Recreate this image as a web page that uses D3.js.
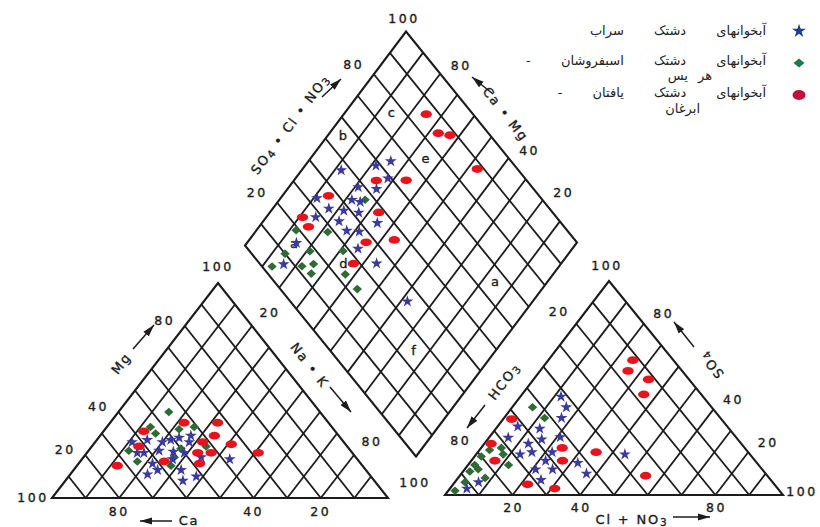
<!DOCTYPE html>
<html><head><meta charset="utf-8">
<script src="https://cdn.jsdelivr.net/npm/d3@7"></script>
<style>body{margin:0;background:#fff}svg{display:block}</style>
</head><body>
<svg id="chart" width="820" height="527"></svg>
<script>
// ---- Cation triangle samples: [Ca, Mg, Na+K] (% meq/l)
const cationSarab = [[63,26,11],[58,27,15],[64,21,15],[62,21,17],[54,26,20],[51,27,22],[48,28,24],[44,29,27],[46,26,28],[57,22,21],[50,21,29],[53,21.5,25.5],[62,16,22],[46,19,35],[38,18,44],[66,11,23],[62,13,25],[55,13,32],[52,10,38],[57,8,35],[55,18,27]];
const cationAsb = [[45,40,15],[54,33,13],[54,30,16],[41,33,26],[46,32,22],[66,22,12],[66,17,17],[54,19,27],[50,23,27],[42,24,34],[57,15,28]];
const cationYaftan = [[43,35,22],[33,35,32],[57,31,12],[37,29,34],[62,24,14],[42,26,32],[34,25,41],[46,21,33],[42,21,37],[28,21,51],[58,17,25],[48,16,36],[73,15,12]];
// ---- Anion triangle samples: [HCO3, SO4, Cl+NO3]
const anionSarab = [[42,46,12],[43,41,16],[47,36,17],[62,32,6],[56,31,13],[67.5,26.8,5.7],[52,27,21],[58,26,16],[63,24,13],[68,19,13],[64,20,16],[58,20,22],[62,16,22],[53,15,32],[37,19,44],[67,12,21],[62,12,26],[53,10,37],[68,7,25],[87,6,7],[92,3,5]];
const anionAsb = [[53,41,6],[52,36,12],[76,21,3],[72,22,6],[80,18,2],[73,19,8],[84,14,2],[74,14,12],[87,11,2],[84,8,8],[84,12,4],[96,2,2],[91,6,3]];
const anionYaftan = [[12,63,25],[16,58,26],[12,54,34],[17,47,36],[62,35.5,2.5],[74,24,2],[54,22,24],[45,20,35],[77,16,7],[57,16,27],[36,9,55],[73,5,22],[66,3,31]];
// ---- Diamond samples: [SO4+Cl+NO3, Ca+Mg]
const diamondSarab = [[58.5,78.5],[64,75],[47,88],[59,72],[53,73],[48,79],[33,89],[43,78],[45,75],[34,83],[38,78],[42,73],[28,85],[34,77],[45,65],[34,72.5],[37.5,68.5],[16,85],[33,65],[7,84],[35,56],[35,38]];
const diamondAsb = [[47,74],[19,88],[28,78],[10,86],[18,79],[28,69],[3,87],[12,78],[16,75],[13,73.5],[23,63],[23,56]];
const diamondYaftan = [[86,75],[85,67],[88,63],[88,47],[64,66],[55,75],[37,86],[48,67],[24,89],[23.5,85],[37,64],[46,56],[28,63]];

// ---- Grid and tick values
const gridSteps = [10,20,30,40,50,60,70,80,90];
const caTicks = [80,40,20];
const mgTicks = [20,40,80];
const nakTicks = [20,80];
const clTicks = [20,40,80];
const hco3Ticks = [80,20];
const so4Ticks = [80,40,20];
const dSulfTicks = [80,20];
const dCaMgTicks = [80,40,20];
const zoneNames = ["a","b","c","d","e","f","a"];
const zonePos = [[15,85.5],[56,95.5],[76,86],[25,66],[75,65],[25,25],[66,16]];

const legendLines = [
  ["آبخوانهای دشتک سراب"],
  ["آبخوانهای دشتک اسبفروشان -", "هر یس"],
  ["آبخوانهای دشتک یافتان -", "ابرغان"]
];

const colStar = "#3b3a9e", colDia = "#2f6b34", colRed = "#e8141d";
const ink = "#1c1c1c";

const svg = d3.select("#chart");
const pct = d3.scaleLinear().domain([0,100]).range([0,1]);

// triangle frame: vertices for components [a, b, c]
function triangle(vA, vB, vC){
  return (a,b,c) => {
    const wa = pct(a), wb = pct(b), wc = pct(c);
    return [wa*vA[0]+wb*vB[0]+wc*vC[0], wa*vA[1]+wb*vB[1]+wc*vC[1]];
  };
}
// cation: Ca at bottom-left, Mg at apex, Na+K at bottom-right
const cat = triangle([52,498],[218,283],[388,498]);
const catP = d => cat(d[0], d[1], d[2]);
// anion: HCO3 bottom-left, SO4 apex, Cl bottom-right
const an = triangle([445,495],[609,281],[783,495]);
const anP = d => an(d[0], d[1], d[2]);
// diamond: origin at bottom vertex
const DB = [416,456.5], DR = [577,242.5], DL = [245,245.5];
const dia = (u, v) => {
  const fu = pct(u), fv = pct(v);
  return [DB[0] + fu*(DR[0]-DB[0]) + fv*(DL[0]-DB[0]), DB[1] + fu*(DR[1]-DB[1]) + fv*(DL[1]-DB[1])];
};

const line = d3.line();
const g = svg.append("g");

function drawSeg(p, q, w){
  g.append("path").attr("d", line([p,q])).attr("stroke", ink).attr("stroke-width", w).attr("fill","none");
}

// ---- triangle grids: only lines parallel to the two slanted sides
function triGrid(P){
  gridSteps.forEach(k => {
    drawSeg(P(100-k,0,k), P(0,100-k,k), 1.8);
    drawSeg(P(k,0,100-k), P(k,100-k,0), 1.8);
  });
  g.append("path").attr("d", line([P(100,0,0),P(0,100,0),P(0,0,100)]) + "Z")
    .attr("stroke", ink).attr("stroke-width", 2.1).attr("fill","none").attr("stroke-linejoin","miter");
}
triGrid(cat);
triGrid(an);
// ---- diamond grid
gridSteps.forEach(k => {
  drawSeg(dia(k,0), dia(k,100), 1.8);
  drawSeg(dia(0,k), dia(100,k), 1.8);
});
g.append("path").attr("d", line([dia(0,0),dia(100,0),dia(100,100),dia(0,100)]) + "Z")
  .attr("stroke", ink).attr("stroke-width", 2.1).attr("fill","none");

// ---- text helpers
const numFont = "'DejaVu Sans', sans-serif";
function label(x, y, txt, opts={}){
  return svg.append("text").attr("x", x).attr("y", y).text(txt)
    .attr("font-family", numFont).attr("font-size", opts.size || 12.5)
    .attr("letter-spacing", opts.ls == null ? 2.5 : opts.ls)
    .attr("fill", ink).attr("stroke", ink).attr("stroke-width", 0.35)
    .attr("text-anchor", "middle").attr("dominant-baseline","central")
    .attr("transform", opts.rot ? `rotate(${opts.rot},${x},${y})` : null);
}
function offLabel(p, dx, dy, v){ label(p[0]+dx, p[1]+dy, String(v)); }

// cation ticks
caTicks.forEach(v => offLabel(cat(v,0,100-v), 0, 13, v));
offLabel(cat(100,0,0), -19, -1, 100);
mgTicks.forEach(v => offLabel(cat(100-v,v,0), -20, -6, v));
offLabel(cat(0,100,0), 0, -17, 100);
nakTicks.forEach(v => offLabel(cat(0,100-v,v), 18, -14, v));
// anion ticks
clTicks.forEach(v => offLabel(an(100-v,0,v), 1, 12, v));
offLabel(an(0,0,100), 19, -4, 100);
hco3Ticks.forEach(v => offLabel(an(v,100-v,0), -17, -12, v));
offLabel(an(100,0,0), -30, -13, 100);
so4Ticks.forEach(v => offLabel(an(0,v,100-v), 20, -10, v));
offLabel(an(0,100,0), -2, -16, 100);
// diamond ticks
dSulfTicks.forEach(v => offLabel(dia(v,100), -20, -10, v));
dCaMgTicks.forEach(v => offLabel(dia(100,v), 21, -8, v));
offLabel(dia(100,100), -2, -13, 100);

// zone letters
zoneNames.forEach((z,i) => {
  const p = dia(zonePos[i][0], zonePos[i][1]);
  label(p[0], p[1], z, {size: 13, ls: 0});
});

// ---- axis titles and arrows
svg.append("defs").append("marker").attr("id","ah").attr("viewBox","0 0 10 6")
  .attr("refX",10).attr("refY",3).attr("markerWidth",8).attr("markerHeight",5).attr("orient","auto")
  .append("path").attr("d","M0,0L10,3L0,6Z").attr("fill",ink);
function arrow(x1,y1,x2,y2){
  svg.append("path").attr("d", line([[x1,y1],[x2,y2]])).attr("stroke", ink)
    .attr("stroke-width",1.5).attr("marker-end","url(#ah)");
}
function title(x, y, parts, rot){
  const t = svg.append("text").attr("x",x).attr("y",y)
    .attr("font-family", numFont).attr("font-size",13).attr("letter-spacing",1.8)
    .attr("fill",ink).attr("stroke", ink).attr("stroke-width", 0.35)
    .attr("text-anchor","middle").attr("dominant-baseline","central")
    .attr("transform", rot ? `rotate(${rot},${x},${y})` : null);
  parts.forEach(p => {
    const s = t.append("tspan").text(p[0]);
    if (p[1]) s.attr("baseline-shift","-25%").attr("font-size",10.5);
  });
}
title(121, 363, [["Mg"]], -52);
arrow(133,349,154,325);
title(310, 365, [["Na • K"]], 52);
arrow(330,387,351,412);
title(189, 520, [["Ca"]], 0);
arrow(172,521,140,521);
title(504, 381, [["HCO"],["3",1]], -52);
arrow(485,405,467,428);
title(711, 365, [["SO"],["4",1]], 231);
arrow(694,347,674,322);
title(632, 519, [["Cl + NO"],["3",1]], 0);
arrow(673,517,710,517);
title(290, 124, [["SO"],["4",1],[" • Cl • NO"],["3",1]], -53);
arrow(322,97,341,79);
title(506, 114, [["Ca • Mg"]], 52);
arrow(493,94,472,77);

// ---- sample markers
const starPath = d3.symbol().type(d3.symbolStar).size(44)();
const diaPath = "M0,-4.3L4.7,0L0,4.3L-4.7,0Z";
function stars(data, P){
  svg.append("g").selectAll("path").data(data).join("path")
    .attr("d", starPath).attr("fill", colStar)
    .attr("transform", d => { const p = P(d); return `translate(${p[0]},${p[1]})`; });
}
function diamonds(data, P){
  svg.append("g").selectAll("path").data(data).join("path")
    .attr("d", diaPath).attr("fill", colDia)
    .attr("transform", d => { const p = P(d); return `translate(${p[0]},${p[1]})`; });
}
function ellipses(data, P){
  svg.append("g").selectAll("ellipse").data(data).join("ellipse")
    .attr("cx", d => P(d)[0]).attr("cy", d => P(d)[1])
    .attr("rx", 5.7).attr("ry", 3.9).attr("fill", colRed);
}
const diaP = d => dia(d[0], d[1]);
diamonds(cationAsb, catP); stars(cationSarab, catP); ellipses(cationYaftan, catP);
diamonds(anionAsb, anP); stars(anionSarab, anP); ellipses(anionYaftan, anP);
diamonds(diamondAsb, diaP); stars(diamondSarab, diaP); ellipses(diamondYaftan, diaP);

// ---- legend
const lg = svg.append("g");
lg.append("path").attr("d", d3.symbol().type(d3.symbolStar).size(60)()).attr("fill","#1f3f8c")
  .attr("transform","translate(799,31)");
lg.append("path").attr("d","M0,-4.5L5.5,0L0,4.5L-5.5,0Z").attr("fill","#1f7a4a")
  .attr("transform","translate(799,63)");
lg.append("ellipse").attr("cx",799).attr("cy",95).attr("rx",6.5).attr("ry",5).attr("fill","#c2103e");
const legY = [[30],[60,75],[92,108]];
const legX = [[766],[766,712],[766,700]];
legendLines.forEach((lines,i) => {
  lines.forEach((s,j) => {
    lg.append("text").attr("x", legX[i][j]).attr("y", legY[i][j]).text(s)
      .attr("direction","rtl").attr("text-anchor","start").attr("dominant-baseline","central")
      .attr("font-family","'DejaVu Sans', sans-serif").attr("font-size",13)
      .attr("word-spacing", j === 0 ? 26 : 6).attr("fill","#222");
  });
});
</script>
</body></html>
